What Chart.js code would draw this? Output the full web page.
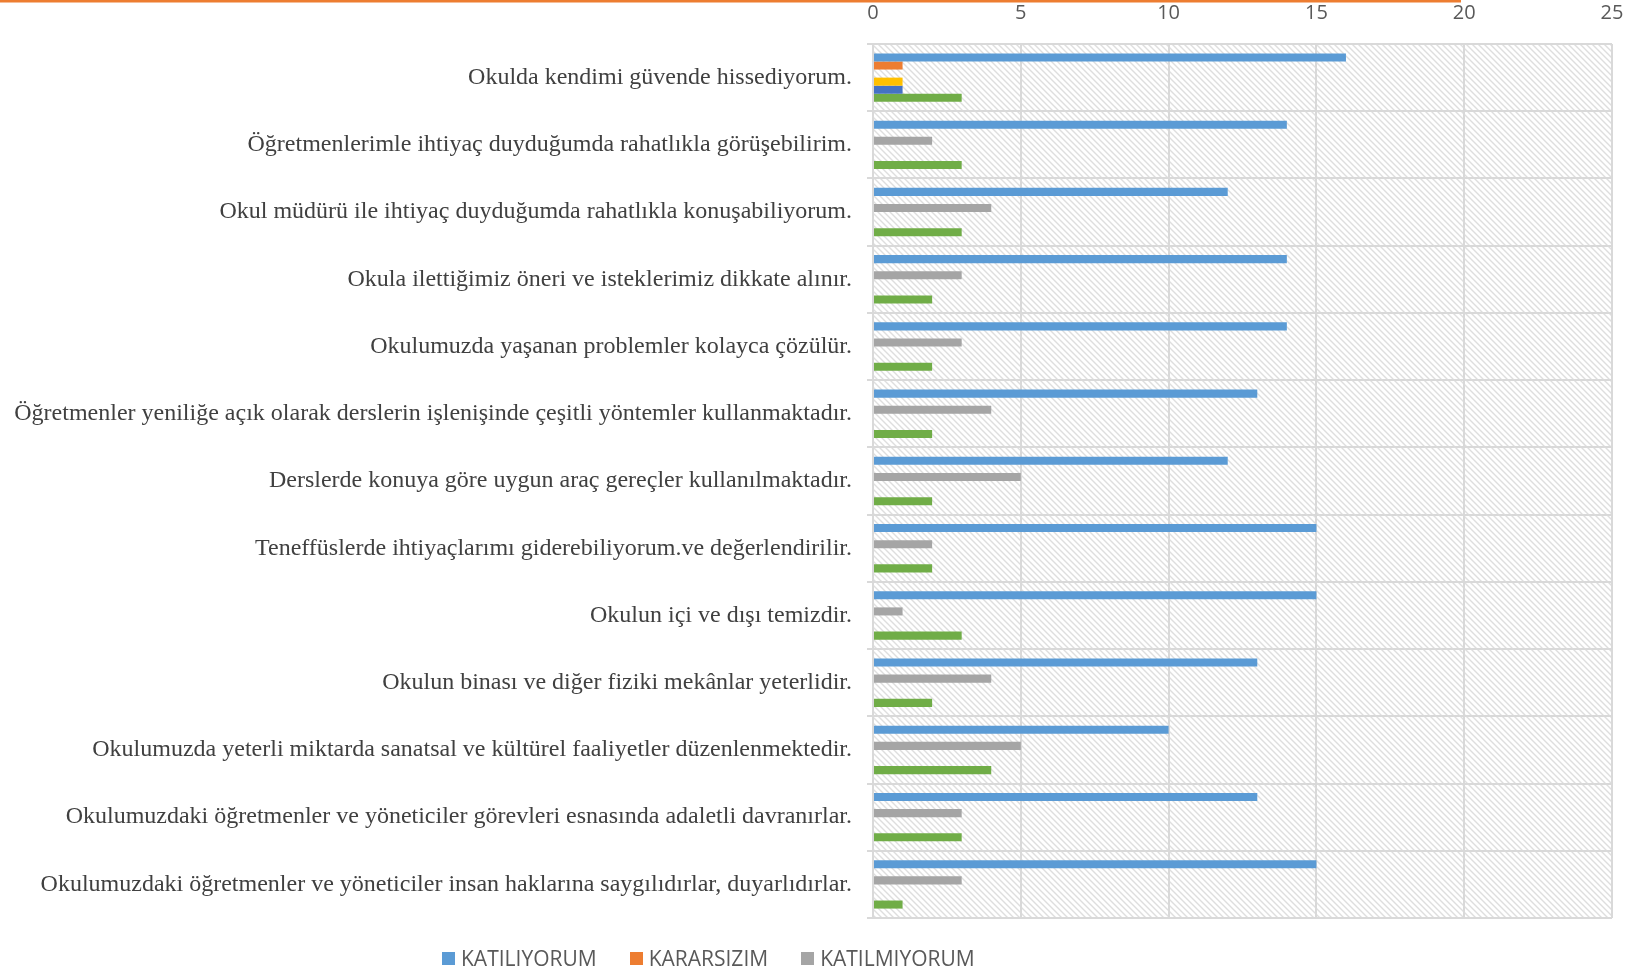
<!DOCTYPE html>
<html>
<head>
<meta charset="utf-8">
<script src="https://cdn.jsdelivr.net/npm/chart.js@4.4.1/dist/chart.umd.min.js"></script>
<style>
  body { margin: 0; background: #fff; }
  #wrap { position: relative; width: 1645px; height: 971px; }
  #legend { position: absolute; left: 442px; top: 945px; display: flex; font-family: "Open Sans", sans-serif; font-size: 21px; color: #595959; line-height: 26px; }
  #legend span.item { display: flex; align-items: center; margin-right: 33px; }
  #legend span.box { width: 13px; height: 13px; margin-right: 6px; display: inline-block; }
</style>
</head>
<body>
<div id="wrap">
  <canvas id="chart" width="1645" height="971"></canvas>
  <div id="legend"></div>
</div>
<script>
const categories = [
    "Okulda kendimi güvende hissediyorum.",
    "Öğretmenlerimle ihtiyaç duyduğumda rahatlıkla görüşebilirim.",
    "Okul müdürü ile ihtiyaç duyduğumda rahatlıkla konuşabiliyorum.",
    "Okula ilettiğimiz öneri ve isteklerimiz dikkate alınır.",
    "Okulumuzda yaşanan problemler kolayca çözülür.",
    "Öğretmenler yeniliğe açık olarak derslerin işlenişinde çeşitli yöntemler kullanmaktadır.",
    "Derslerde konuya göre uygun araç gereçler kullanılmaktadır.",
    "Teneffüslerde ihtiyaçlarımı giderebiliyorum.ve değerlendirilir.",
    "Okulun içi ve dışı temizdir.",
    "Okulun binası ve diğer fiziki mekânlar yeterlidir.",
    "Okulumuzda yeterli miktarda sanatsal ve kültürel faaliyetler düzenlenmektedir.",
    "Okulumuzdaki öğretmenler ve yöneticiler görevleri esnasında adaletli davranırlar.",
    "Okulumuzdaki öğretmenler ve yöneticiler insan haklarına saygılıdırlar, duyarlıdırlar."
];

const katiliyorum  = [16, 14, 12, 14, 14, 13, 12, 15, 15, 13, 10, 13, 15];
const kararsizim   = [1, 0, 0, 0, 0, 0, 0, 0, 0, 0, 0, 0, 0];
const katilmiyorum = [0, 2, 4, 3, 3, 4, 5, 2, 1, 4, 5, 3, 3];
const seri4        = [1, 0, 0, 0, 0, 0, 0, 0, 0, 0, 0, 0, 0];
const seri5        = [1, 0, 0, 0, 0, 0, 0, 0, 0, 0, 0, 0, 0];
const seri6        = [3, 3, 3, 2, 2, 2, 2, 2, 3, 2, 4, 3, 1];

const xTicks = [0, 5, 10, 15, 20, 25];

const series = [
    { label: "KATILIYORUM", data: katiliyorum, color: "#5B9BD5", legend: true },
    { label: "KARARSIZIM", data: kararsizim, color: "#ED7D31", legend: true },
    { label: "KATILMIYORUM", data: katilmiyorum, color: "#A5A5A5", legend: true },
    { label: "Seri4", data: seri4, color: "#FFC000", legend: false },
    { label: "Seri5", data: seri5, color: "#4472C4", legend: false },
    { label: "Seri6", data: seri6, color: "#70AD47", legend: false }
];

// diagonal hatch for the plot area
function makeHatch(ctx) {
    const tile = document.createElement("canvas");
    tile.width = 6;
    tile.height = 6;
    const t = tile.getContext("2d");
    t.fillStyle = "#ffffff";
    t.fillRect(0, 0, 6, 6);
    t.strokeStyle = "#dedede";
    t.lineWidth = 1.4;
    t.beginPath();
    t.moveTo(-1, -1); t.lineTo(7, 7);
    t.moveTo(-4, 2); t.lineTo(4, 10);
    t.moveTo(2, -4); t.lineTo(10, 4);
    t.stroke();
    return ctx.createPattern(tile, "repeat");
}

const backdrop = {
    id: "backdrop",
    beforeDraw(chart) {
        const { ctx, chartArea } = chart;
        ctx.save();
        ctx.fillStyle = makeHatch(ctx);
        ctx.fillRect(chartArea.left, chartArea.top, chartArea.right - chartArea.left, chartArea.bottom - chartArea.top);
        ctx.restore();
    },
    afterDraw(chart) {
        const ctx = chart.ctx;
        ctx.save();
        ctx.fillStyle = "#ED7D31";
        ctx.fillRect(0, 0, 1461, 2.5);
        ctx.restore();
    }
};

const ctx = document.getElementById("chart").getContext("2d");

const myChart = new Chart(ctx, {
    type: "bar",
    data: {
        labels: categories,
        datasets: series.map(s => ({
            label: s.label,
            data: s.data,
            backgroundColor: s.color,
            borderWidth: 0,
            categoryPercentage: 0.72,
            barPercentage: 1.0
        }))
    },
    options: {
        indexAxis: "y",
        responsive: false,
        animation: false,
        layout: { padding: { top: 0, left: 0, right: 33, bottom: 53 } },
        plugins: {
            legend: { display: false },
            tooltip: { enabled: false }
        },
        scales: {
            x: {
                position: "top",
                min: 0,
                max: 25,
                afterBuildTicks(scale) {
                    scale.ticks = xTicks.map(v => ({ value: v }));
                },
                afterFit(scale) { scale.height = 44; },
                grid: { color: "#D9D9D9", lineWidth: 2, drawTicks: false },
                border: { display: false },
                ticks: {
                    color: "#595959",
                    padding: 19,
                    font: { family: "Open Sans", size: 20 }
                }
            },
            y: {
                afterFit(scale) { scale.width = 873; },
                grid: { color: "#D9D9D9", lineWidth: 2, offset: true, tickLength: 6 },
                border: { color: "#D9D9D9", width: 2 },
                ticks: {
                    color: "#404040",
                    padding: 15,
                    autoSkip: false,
                    font: { family: "Liberation Serif", size: 24 }
                }
            }
        }
    },
    plugins: [backdrop]
});

// legend shows the first three series only, as in the original
const legendEl = document.getElementById("legend");
series.filter(s => s.legend).forEach(s => {
    const item = document.createElement("span");
    item.className = "item";
    const box = document.createElement("span");
    box.className = "box";
    box.style.background = s.color;
    item.appendChild(box);
    item.appendChild(document.createTextNode(s.label));
    legendEl.appendChild(item);
});
</script>
</body>
</html>
